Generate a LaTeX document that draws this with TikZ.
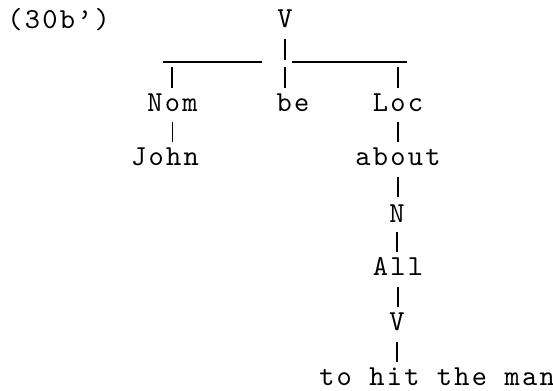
\documentclass[tikz,border=0pt]{standalone}
\usepackage{fontspec}
\newfontfamily\courlike{lmmono10-regular}[Extension=.otf,LetterSpace=7.7]
\begin{document}
\begin{tikzpicture}[x=0.5pt,y=-0.5pt,
  lbl/.style={anchor=base,inner sep=0pt,font=\courlike\fontsize{14.5}{16}\selectfont},
  tick/.style={line width=0.65pt}]
\useasboundingbox (0,0) rectangle (553,391);
% labels
\node[lbl,anchor=base west] (ex) at (7,28) {(30b’)};
\node[lbl] (v0) at (285,27) {V};
\node[lbl] (nom) at (172.5,112) {Nom};
\node[lbl] (be) at (293,112) {be};
\node[lbl] (loc) at (398,112) {Loc};
\node[lbl] (john) at (165,165) {John};
\node[lbl] (about) at (398,165) {about};
\node[lbl] (n) at (397,222) {N};
\node[lbl] (all) at (398,275) {All};
\node[lbl] (v1) at (397,330) {V};
\node[lbl] (hit) at (437,386) {to hit the man};
% bar coordinates
\coordinate (bl) at (163,62);
\coordinate (ble) at (262,62);
\coordinate (brs) at (292,62);
\coordinate (br) at (407,62);
\coordinate (tnom) at (172,67);
\coordinate (tbe) at (285,67);
\coordinate (tloc) at (398,67);
% top vertical and bar
\draw[tick] ([yshift=-6pt]v0.base) -- ++(0,-10.5pt);
\draw[tick] (bl) -- (ble);
\draw[tick] (brs) -- (br);
\draw[tick] (tnom) -- ++(0,-10.5pt);
\draw[tick] (tbe) -- ++(0,-10.5pt);
\draw[tick] (tloc) -- ++(0,-10.5pt);
% chain ticks
\draw[tick] ([yshift=-5pt]nom.base) -- ++(0,-10pt);
\draw[tick] ([yshift=-5pt]loc.base) -- ++(0,-10pt);
\draw[tick] ([yshift=-6pt]about.base) -- ++(0,-10pt);
\draw[tick] ([yshift=-5pt]n.base) -- ++(0,-10pt);
\draw[tick] ([yshift=-6pt]all.base) -- ++(0,-10pt);
\draw[tick] ([yshift=-6pt]v1.base) -- ++(0,-10pt);
\end{tikzpicture}
\end{document}
